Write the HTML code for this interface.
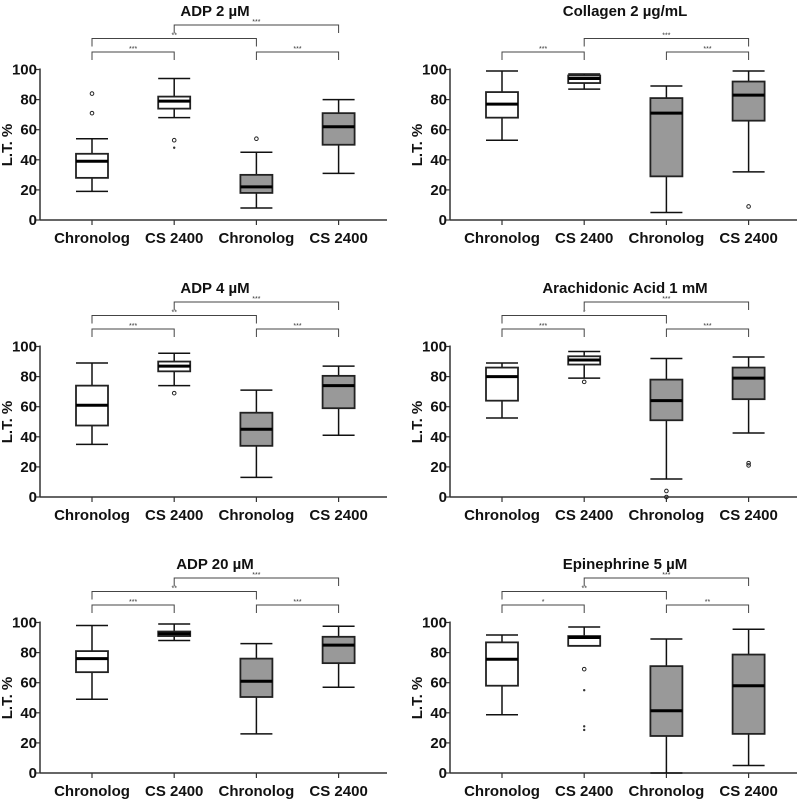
<!DOCTYPE html>
<html><head><meta charset="utf-8"><style>
html,body{margin:0;padding:0;background:#fff}
svg{display:block;font-family:"Liberation Sans",Arial,sans-serif}
</style></head><body>
<svg id="chart" width="800" height="800" viewBox="0 0 800 800"></svg>
<script>
const titles = ["ADP 2 µM","Collagen 2 µg/mL","ADP 4 µM","Arachidonic Acid 1 mM","ADP 20 µM","Epinephrine 5 µM"];
const categories = ["Chronolog","CS 2400","Chronolog","CS 2400"];
const yTicks = [0,20,40,60,80,100];
const loWhisk = [[19,68,8,31],[53,87,5,32],[35,74,13,41],[52.5,79,12,42.5],[49,88,26,57],[38.7,84.5,0,5]];
const hiWhisk = [[54,94,45,80],[99,97,89,99],[89,95.5,71,87],[89,96.7,92,93],[98,99,86,97.5],[91.7,97,89,95.5]];
const q1Vals = [[28,74,18,50],[68,91,29,66],[47.5,83.5,34,59],[64,88,51,65],[67,91,50.5,73],[58,84.5,24.6,26]];
const q3Vals = [[44,82,30,71],[85,96,81,92],[74,90,56,80.5],[86,93.5,78,86],[81,94,76,90.5],[86.8,91,71,78.7]];
const medVals = [[39,79,22,62],[77,94,71,83],[61,87,45,74],[80,91,64,79],[76,92.5,61,85],[75.6,90,41.4,58]];
const outlierVals = [[[0,71],[0,84],[1,53],[2,54]],[[3,9]],[[1,69]],[[1,76.5],[2,4],[2,0],[3,21],[3,22.5]],[],[[1,69]]];
const starVals = [[[1,48]],[],[],[],[],[[1,55],[1,31],[1,28.6]]];
const brackets = [
 [[1,3,2,"***"],[0,2,1,"**"],[0,1,0,"***"],[2,3,0,"***"]],
 [[1,3,1,"***"],[0,1,0,"***"],[2,3,0,"***"]],
 [[1,3,2,"***"],[0,2,1,"**"],[0,1,0,"***"],[2,3,0,"***"]],
 [[1,3,2,"***"],[0,2,1,"*"],[0,1,0,"***"],[2,3,0,"***"]],
 [[1,3,2,"***"],[0,2,1,"**"],[0,1,0,"***"],[2,3,0,"***"]],
 [[1,3,2,"***"],[0,2,1,"**"],[0,1,0,"*"],[2,3,0,"**"]]
];

const svg=document.getElementById('chart');
const NS="http://www.w3.org/2000/svg";
function mk(tag,attrs,parent){const e=document.createElementNS(NS,tag);for(const k in attrs)e.setAttribute(k,attrs[k]);(parent||svg).appendChild(e);return e;}
const zeros=[220,220,497,497,773,773];
const axisXs=[40,450,40,450,40,450];
const fills=["#ffffff","#ffffff","#999999","#999999"];

for(let p=0;p<6;p++){
  const z=zeros[p], ax=axisXs[p];
  const yS=v=>z-v*1.505;
  const xS=i=>ax+52+i*82.2;
  const g=mk('g',{});
  
  
  const t=mk('text',{x:ax+175,y:z-204,'text-anchor':'middle','font-size':'15','font-weight':'bold',fill:'#111'},g);
  t.textContent=titles[p];
  
  
  const yl=mk('text',{x:0,y:0,'text-anchor':'middle','font-size':'15','font-weight':'bold',fill:'#111',transform:`translate(${ax-28},${z-75}) rotate(-90)`},g);
  yl.textContent="L.T. %";
  
  
  const yAx=mk('line',{x1:ax,y1:z,x2:ax,y2:yS(100)-1,stroke:'#333','stroke-width':1.5},g);
  
  
  const xAx=mk('line',{x1:ax,y1:z,x2:ax+347,y2:z,stroke:'#333','stroke-width':1.5},g);
  
  
  yTicks.forEach(v=>{
    const tk=mk('line',{x1:ax-4,y1:yS(v),x2:ax,y2:yS(v),stroke:'#333','stroke-width':1.2},g);
    
    
    const tl=mk('text',{x:ax-3,y:yS(v)+5,'text-anchor':'end','font-size':'15','font-weight':'bold',fill:'#111'},g);
    tl.textContent=v;
    
    
  });
  categories.forEach((c,i)=>{
    const x=xS(i);
    const tk=mk('line',{x1:x,y1:z,x2:x,y2:z+5,stroke:'#333','stroke-width':1.2},g);
    
    
    const tl=mk('text',{x:x,y:z+23,'text-anchor':'middle','font-size':'15','font-weight':'bold',fill:'#111'},g);
    tl.textContent=c;
    
    
    const bw=16;
    const wl=mk('line',{x1:x,y1:yS(loWhisk[p][i]),x2:x,y2:yS(hiWhisk[p][i]),stroke:'#111','stroke-width':1.5},g);
    
    
    [loWhisk[p][i],hiWhisk[p][i]].forEach(v=>{
      const cap=mk('line',{x1:x-bw,y1:yS(v),x2:x+bw,y2:yS(v),stroke:'#111','stroke-width':1.5},g);
      
      
    });
    const bx=mk('rect',{x:x-bw,y:yS(q3Vals[p][i]),width:bw*2,height:yS(q1Vals[p][i])-yS(q3Vals[p][i]),fill:fills[i],stroke:'#222','stroke-width':1.8},g);
    
    
    const md=mk('line',{x1:x-bw,y1:yS(medVals[p][i]),x2:x+bw,y2:yS(medVals[p][i]),stroke:'#000','stroke-width':3},g);
    
    
  });
  outlierVals[p].forEach(o=>{
    const c=mk('circle',{cx:xS(o[0]),cy:yS(o[1]),r:1.8,fill:'none',stroke:'#222','stroke-width':1},g);
    
    
  });
  starVals[p].forEach(o=>{
    const c=mk('circle',{cx:xS(o[0]),cy:yS(o[1]),r:1.2,fill:'#333'},g);
    
    
  });
  brackets[p].forEach(b=>{
    const by=z-168-b[2]*13.5, x1=xS(b[0]), x2=xS(b[1]);
    const pl=mk('polyline',{points:`${x1},${by+8} ${x1},${by} ${x2},${by} ${x2},${by+8}`,fill:'none',stroke:'#444','stroke-width':1},g);
    
    
    const st=mk('text',{x:(x1+x2)/2,y:by-1,'text-anchor':'middle','font-size':'7',fill:'#333'},g);
    st.textContent=b[3];
    
    
  });
}
</script>
</body></html>
